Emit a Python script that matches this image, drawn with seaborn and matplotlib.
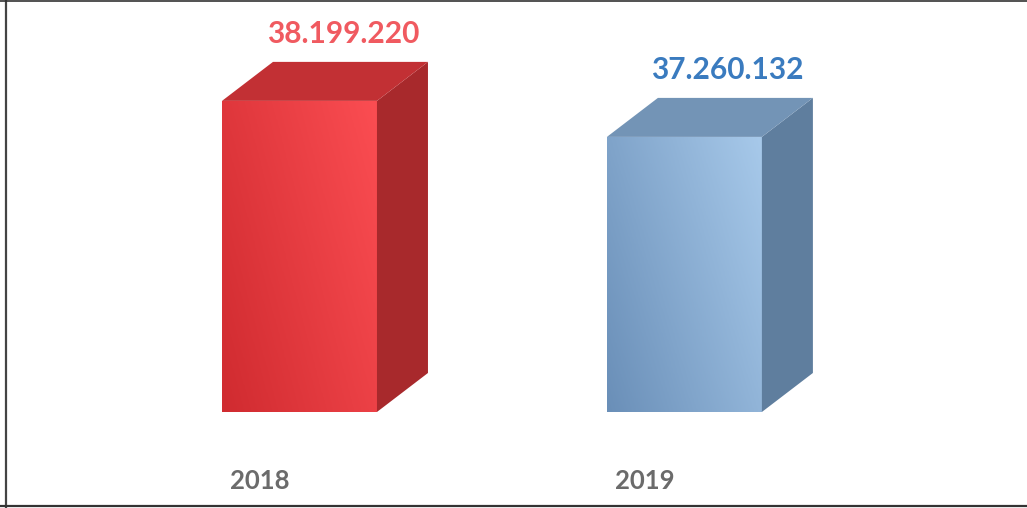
import numpy as np
import pandas as pd
import matplotlib
matplotlib.use("Agg")
import matplotlib.pyplot as plt
import seaborn as sns
from matplotlib.patches import Polygon
from matplotlib.lines import Line2D
from matplotlib.colors import LinearSegmentedColormap

# ---- data ----
years = ["2018", "2019"]
values = [38199220, 37260132]
value_labels = ["38.199.220", "37.260.132"]

# ---- styling ----
front_dark = ["#d02b30", "#6a8fb8"]
front_light = ["#fb4d52", "#a7c9ea"]
side_colors = ["#a8292c", "#5f7e9e"]
top_colors = ["#c23034", "#7394b6"]
label_colors = ["#f05a60", "#3a7bbf"]
year_color = "#6b6b6b"

BASE = 30.087e6
DX = 0.1325
DY = 1.017e6

sns.set_theme(style="white")
plt.rcParams['font.family'] = ['Lato', 'DejaVu Sans']

fig = plt.figure(figsize=(10.27, 5.08), dpi=100)
fig.patch.set_facecolor("white")
ax = fig.add_axes([0, 0, 1, 1])

df = pd.DataFrame({"year": years, "value": values})
sns.barplot(data=df, x="year", y="value", hue="year", palette=front_light,
            width=0.4026, legend=False, ax=ax, saturation=1, errorbar=None)

ax.set_xlim(-0.778, 1.890)
ax.set_ylim(27.583e6, 40.83e6)
ax.axis("off")

gx, gy = np.meshgrid(np.linspace(0, 1, 80), np.linspace(0, 1, 80))
grad = 0.65 * gx + 0.35 * gy

for i, p in enumerate(ax.patches):
    x, w, h = p.get_x(), p.get_width(), p.get_height()
    p.set_bounds(x, BASE, w, h - BASE)
    p.set_facecolor("none")
    p.set_edgecolor("none")
    top = h
    cmap = LinearSegmentedColormap.from_list("g", [front_dark[i], front_light[i]])
    im = ax.imshow(grad, extent=(x, x + w, BASE, top), origin="lower",
                   cmap=cmap, aspect="auto", zorder=2)
    im.set_clip_path(p)
    # side face
    side = Polygon([(x + w, BASE), (x + w + DX, BASE + DY),
                    (x + w + DX, top + DY), (x + w, top)],
                   closed=True, facecolor=side_colors[i], edgecolor="none", zorder=2)
    ax.add_patch(side)
    # top face
    topf = Polygon([(x, top), (x + DX, top + DY), (x + w + DX, top + DY), (x + w, top)],
                   closed=True, facecolor=top_colors[i], edgecolor="none", zorder=2)
    ax.add_patch(topf)
    # value label
    ax.text(x + w / 2 + DX * 0.85, top + DY + 0.73e6, value_labels[i],
            ha="center", va="center", fontsize=21.5, fontweight="bold",
            color=label_colors[i], zorder=3)
    # year label
    ax.text(x + 0.021, 28.287e6, years[i], ha="left", va="center",
            fontsize=18.5, fontweight="bold", color=year_color, zorder=3)

ax.set_xlim(-0.778, 1.890)
ax.set_ylim(27.583e6, 40.83e6)

# frame
fig.add_artist(Line2D([6 / 1027, 6 / 1027], [0, 1], transform=fig.transFigure,
                      color="#444444", lw=1.6))
fig.add_artist(Line2D([0, 1], [1 - 1 / 508, 1 - 1 / 508], transform=fig.transFigure,
                      color="#333333", lw=1.2))
fig.add_artist(Line2D([0, 1], [1 - 506 / 508, 1 - 506 / 508], transform=fig.transFigure,
                      color="#333333", lw=1.6))

fig.savefig("out.png", dpi=100, facecolor="white")
